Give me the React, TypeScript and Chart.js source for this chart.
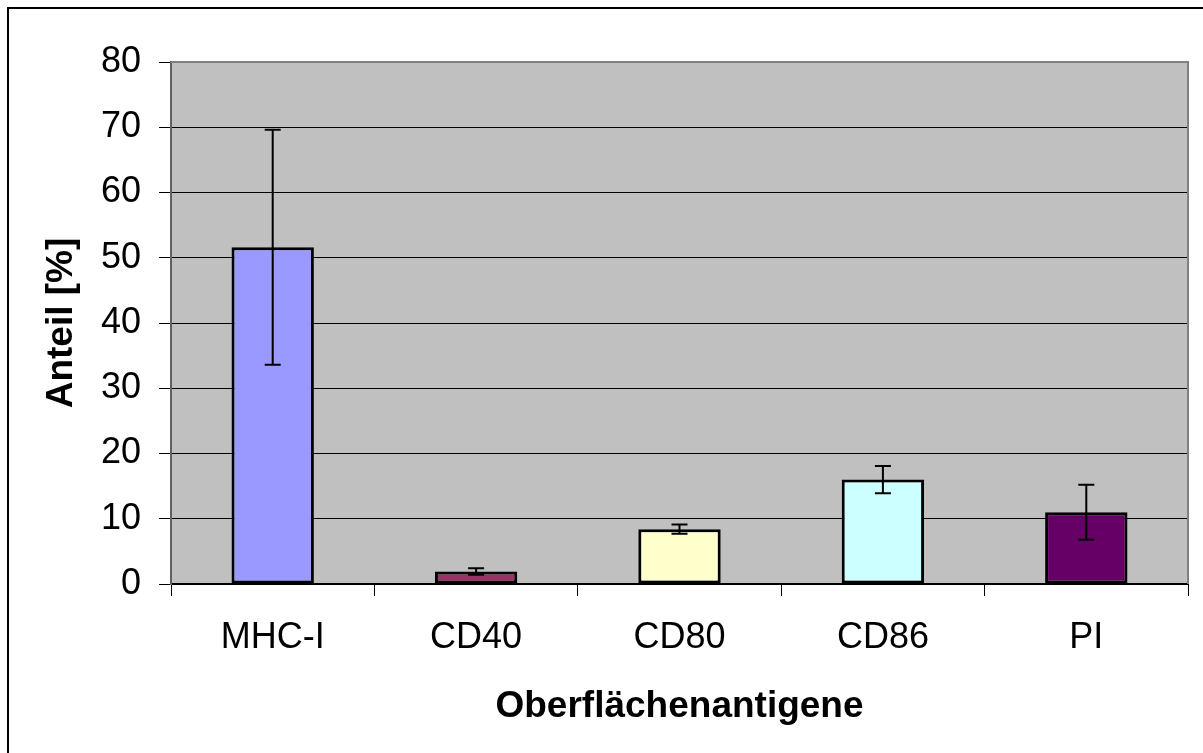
import React, { useEffect, useRef } from "react";
import { Chart, registerables } from "chart.js";

Chart.register(...registerables);

const categories = ["MHC-I", "CD40", "CD80", "CD86", "PI"];
const values = [51.6, 1.9, 8.4, 16.0, 11.0];
const errors = [18.0, 0.5, 0.7, 2.1, 4.2];
const barColors = ["#9999FF", "#993366", "#FFFFCC", "#CCFFFF", "#660066"];
const yMin = 0;
const yMax = 80;
const yStep = 10;
const yTitle = "Anteil [%]";
const xTitle = "Oberflächenantigene";

const FONT = "'Liberation Sans', Arial, Helvetica, sans-serif";

const framePlugin = {
  id: "frame",
  beforeDraw(chart: any) {
    const { ctx, chartArea } = chart;
    ctx.save();
    ctx.fillStyle = "#ffffff";
    ctx.fillRect(0, 0, chart.width, chart.height);
    ctx.strokeStyle = "#000000";
    ctx.lineWidth = 2;
    ctx.beginPath();
    ctx.moveTo(8, chart.height + 5);
    ctx.lineTo(8, 8);
    ctx.lineTo(chart.width + 5, 8);
    ctx.stroke();
    ctx.fillStyle = "#C0C0C0";
    ctx.fillRect(chartArea.left, chartArea.top, chartArea.right - chartArea.left, chartArea.bottom - chartArea.top);
    ctx.restore();
  },
  afterDraw(chart: any) {
    const { ctx, chartArea } = chart;
    ctx.save();
    ctx.strokeStyle = "#808080";
    ctx.lineWidth = 2;
    ctx.beginPath();
    ctx.moveTo(chartArea.left, chartArea.top);
    ctx.lineTo(chartArea.right, chartArea.top);
    ctx.lineTo(chartArea.right, chartArea.bottom);
    ctx.stroke();
    ctx.restore();
  },
};

const errorBarPlugin = {
  id: "errorBars",
  afterDatasetsDraw(chart: any) {
    const { ctx } = chart;
    const meta = chart.getDatasetMeta(0);
    const y = chart.scales.y;
    ctx.save();
    ctx.strokeStyle = "#000000";
    ctx.lineWidth = 2;
    meta.data.forEach((bar: any, i: number) => {
      const x = bar.x;
      const top = y.getPixelForValue(values[i] + errors[i]);
      const bot = y.getPixelForValue(values[i] - errors[i]);
      ctx.beginPath();
      ctx.moveTo(x, top);
      ctx.lineTo(x, bot);
      ctx.moveTo(x - 8, top);
      ctx.lineTo(x + 8, top);
      ctx.moveTo(x - 8, bot);
      ctx.lineTo(x + 8, bot);
      ctx.stroke();
    });
    ctx.restore();
  },
};

export default function App() {
  const ref = useRef<HTMLCanvasElement>(null);

  useEffect(() => {
    if (!ref.current) return;
    const chart = new Chart(ref.current, {
      type: "bar",
      data: {
        labels: categories,
        datasets: [
          {
            data: values,
            backgroundColor: barColors,
            borderColor: "#000000",
            borderWidth: 3,
            borderSkipped: false,
            barPercentage: 0.405,
            categoryPercentage: 1,
          },
        ],
      },
      options: {
        animation: false,
        responsive: false,
        devicePixelRatio: 1,
        layout: { padding: { top: 62, right: 15, left: 0, bottom: 0 } },
        plugins: {
          legend: { display: false },
          tooltip: { enabled: false },
        },
        scales: {
          x: {
            grid: {
              drawOnChartArea: false,
              drawTicks: true,
              tickLength: 12,
              color: "#000000",
              offset: true,
            },
            border: { color: "#000000", width: 2 },
            ticks: {
              color: "#000000",
              font: { family: FONT, size: 36 },
              padding: 20,
              maxRotation: 0,
            },
            title: {
              display: true,
              text: xTitle,
              color: "#000000",
              font: { family: FONT, size: 37, weight: "bold" },
              padding: { top: 24, bottom: 24 },
            },
            afterFit(scale: any) {
              scale.height = 169;
            },
          },
          y: {
            min: yMin,
            max: yMax,
            grid: {
              color: "#000000",
              lineWidth: 1,
              tickLength: 12,
            },
            border: { color: "#606060", width: 2 },
            ticks: {
              stepSize: yStep,
              color: "#000000",
              font: { family: FONT, size: 36 },
              padding: 18,
            },
            title: {
              display: true,
              text: yTitle,
              color: "#000000",
              font: { family: FONT, size: 37, weight: "bold" },
              padding: { top: 40, bottom: 40 },
            },
            afterFit(scale: any) {
              scale.width = 171;
            },
          },
        },
      },
      plugins: [framePlugin, errorBarPlugin],
    });
    return () => chart.destroy();
  }, []);

  return (
    <div style={{ position: "fixed", left: 0, top: 0, width: 1203, height: 753, overflow: "hidden", background: "#fff" }}>
      <canvas ref={ref} width={1203} height={753} style={{ display: "block" }} />
    </div>
  );
}
